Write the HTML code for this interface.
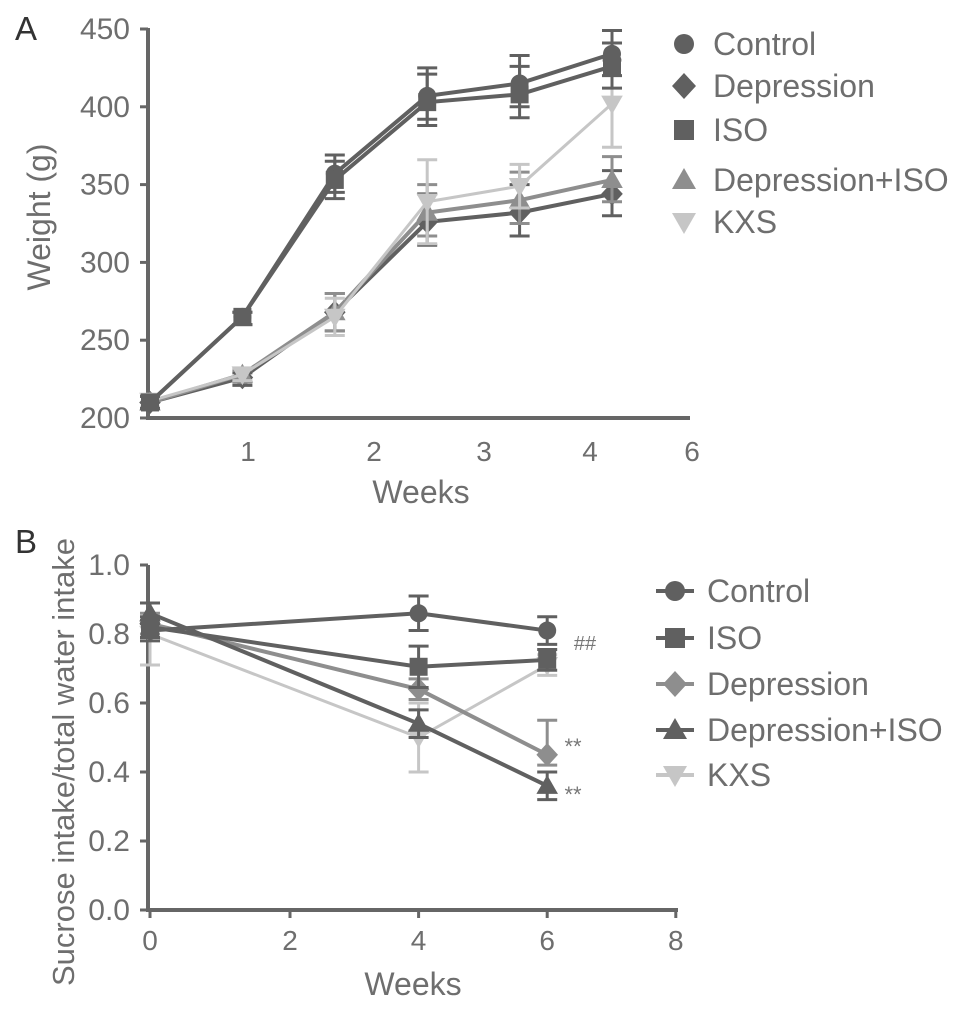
<!DOCTYPE html>
<html><head><meta charset="utf-8"><style>
body{margin:0;background:#fff;width:969px;height:1009px;overflow:hidden}
svg{font-family:"Liberation Sans",sans-serif}
</style></head><body>
<svg id="c" width="969" height="1009"></svg>
<script>
// Panel A data
const aWeeks=[0,1,2,3,4,5];
const aTickLabels=["1","2","3","4","6"];
const aYTicks=[200,250,300,350,400,450];
const aControl=[210,265,357,407,415,434];
const aISO=[210,265,353,403,408,426];
const aDepression=[210,226,268,326,332,344];
const aDepIso=[210,228,268,332,340,353];
const aKXS=[211,228,265,339,349,402];
const aErrHigh=[4,3,12,18,18,15];
const aErrLow=[4,5,12,15,15,14];
const aKXSErr=[4,4,12,27,14,28];
// Panel B data
const bWeeks=[0,4,6];
const bXTicks=[0,2,4,6,8];
const bYTicks=[0,0.2,0.4,0.6,0.8,1.0];
const bControl=[0.81,0.86,0.81];
const bISO=[0.82,0.705,0.725];
const bDepression=[0.83,0.64,0.45];
const bDepIso=[0.86,0.54,0.36];
const bKXS=[0.80,0.50,0.71];
const bControlErr=[0.03,0.05,0.04];
const bISOErr=[0.03,0.06,0.03];
const bDepErr=[0.03,0.03,0.1];
const bDepIsoErr=[0.03,0.04,0.04];
const bKXSErr=[0.09,0.1,0.03];

const NS="http://www.w3.org/2000/svg";
const svg=document.getElementById('c');
function el(t,a,p){const e=document.createElementNS(NS,t);for(const k in a)e.setAttribute(k,a[k]);(p||svg).appendChild(e);return e;}
function txt(s,x,y,sz,anchor,fill,rot){const e=el('text',{x:x,y:y,'font-size':sz,'text-anchor':anchor||'middle',fill:fill||'#6e6e6e'});if(rot)e.setAttribute('transform',rot);e.textContent=s;return e;}
const D='#606060',M='#8e8e8e',L='#c6c6c6';
function marker(g,type,x,y,c,s){s=s||9;let e;
 if(type==='circle')e=el('circle',{cx:x,cy:y,r:s},g);
 else if(type==='square')e=el('rect',{x:x-s,y:y-s,width:2*s,height:2*s},g);
 else if(type==='diamond')e=el('polygon',{points:`${x},${y-s*1.3} ${x+s*1.2},${y} ${x},${y+s*1.3} ${x-s*1.2},${y}`},g);
 else if(type==='tri')e=el('polygon',{points:`${x},${y-s*1.2} ${x+s*1.2},${y+s*0.9} ${x-s*1.2},${y+s*0.9}`},g);
 else e=el('polygon',{points:`${x},${y+s*1.2} ${x+s*1.2},${y-s*0.9} ${x-s*1.2},${y-s*0.9}`},g);
 e.setAttribute('fill',c);return e;}
function series(name,xs,vals,errH,errL,xf,yf,type,c,w){
 const g=el('g',{});
 
 
 el('polyline',{points:vals.map((v,i)=>xf(xs[i])+','+yf(v)).join(' '),fill:'none',stroke:c,'stroke-width':w||4},g);
 vals.forEach((v,i)=>{const x=xf(xs[i]);const y1=yf(v+errH[i]),y2=yf(v-errL[i]);
  el('line',{x1:x,x2:x,y1:y1,y2:y2,stroke:c,'stroke-width':3},g);
  el('line',{x1:x-10,x2:x+10,y1:y1,y2:y1,stroke:c,'stroke-width':3},g);
  el('line',{x1:x-10,x2:x+10,y1:y2,y2:y2,stroke:c,'stroke-width':3},g);
  marker(g,type,x,yf(v),c);});
}
// ---- Panel A
const ax=i=>150+i*92.4, ay=v=>418-(v-200)*389/250;
txt('A',26,40,33,'middle','#333');
el('line',{x1:148,x2:148,y1:28,y2:420,stroke:'#666','stroke-width':4});
el('line',{x1:146,x2:690,y1:418,y2:418,stroke:'#666','stroke-width':4});
aYTicks.forEach(v=>{el('line',{x1:140,x2:148,y1:ay(v),y2:ay(v),stroke:'#666','stroke-width':3});txt(String(v),130,ay(v)+10,30,'end');});
const aLabX=[248,374,484,590,692];
aTickLabels.forEach((s,i)=>txt(s,aLabX[i],461,28));
txt('Weeks',421,503,32);
txt('Weight (g)',50,217,32,'middle','#6e6e6e','rotate(-90 50 217)');
series('series-a-depression',aWeeks,aDepression,aErrHigh,aErrLow,ax,ay,'diamond',D);
series('series-a-depression-iso',aWeeks,aDepIso,aErrHigh,aErrLow,ax,ay,'tri',M);
series('series-a-kxs',aWeeks,aKXS,aKXSErr,aKXSErr,ax,ay,'down',L,3);
series('series-a-control',aWeeks,aControl,aErrHigh,aErrLow,ax,ay,'circle',D);
series('series-a-iso',aWeeks,aISO,aErrHigh,aErrLow,ax,ay,'square',D);
[['Control','circle',D,44],['Depression','diamond',D,86],['ISO','square',D,130],['Depression+ISO','tri',M,180],['KXS','down',L,222]].forEach(r=>{
 const g=el('g',{});
 marker(g,r[1],684,r[3],r[2],10);const t=txt(r[0],713,r[3]+11,32,'start');g.appendChild(t);});
// ---- Panel B
const bx=v=>v===0?150:v<=2?150+v*70:290+(v-2)*64.3, by=v=>910-v*345;
txt('B',26,553,33,'middle','#333');
el('line',{x1:148,x2:148,y1:565,y2:912,stroke:'#666','stroke-width':4});
el('line',{x1:146,x2:678,y1:910,y2:910,stroke:'#666','stroke-width':4});
bYTicks.forEach(v=>{el('line',{x1:140,x2:148,y1:by(v),y2:by(v),stroke:'#666','stroke-width':3});txt(v.toFixed(1),130,by(v)+10,30,'end');});
bXTicks.forEach(v=>{el('line',{x1:bx(v),x2:bx(v),y1:910,y2:918,stroke:'#666','stroke-width':3});txt(String(v),bx(v),950,28);});
txt('Weeks',413,995,32);
txt('Sucrose intake/total water intake',74,762,31,'middle','#6e6e6e','rotate(-90 74 762)');
series('series-b-kxs',bWeeks,bKXS,bKXSErr,bKXSErr,bx,by,'down',L,3);
series('series-b-depression',bWeeks,bDepression,bDepErr,bDepErr.map(()=>0.03),bx,by,'diamond',M);
series('series-b-depression-iso',bWeeks,bDepIso,bDepIsoErr,bDepIsoErr,bx,by,'tri',D);
series('series-b-iso',bWeeks,bISO,bISOErr,bISOErr,bx,by,'square',D);
series('series-b-control',bWeeks,bControl,bControlErr,bControlErr,bx,by,'circle',D);
txt('##',585,650,20,'middle','#777');
txt('**',573,754,22,'middle','#777');
txt('**',573,802,22,'middle','#777');
[['Control','circle',D,591],['ISO','square',D,638],['Depression','diamond',M,684],['Depression+ISO','tri',D,730],['KXS','down',L,775]].forEach(r=>{
 const g=el('g',{});
 el('line',{x1:656,x2:694,y1:r[3],y2:r[3],stroke:r[2],'stroke-width':4},g);
 marker(g,r[1],675,r[3],r[2],10);const t=txt(r[0],707,r[3]+11,32,'start');g.appendChild(t);});
</script>
</body></html>
